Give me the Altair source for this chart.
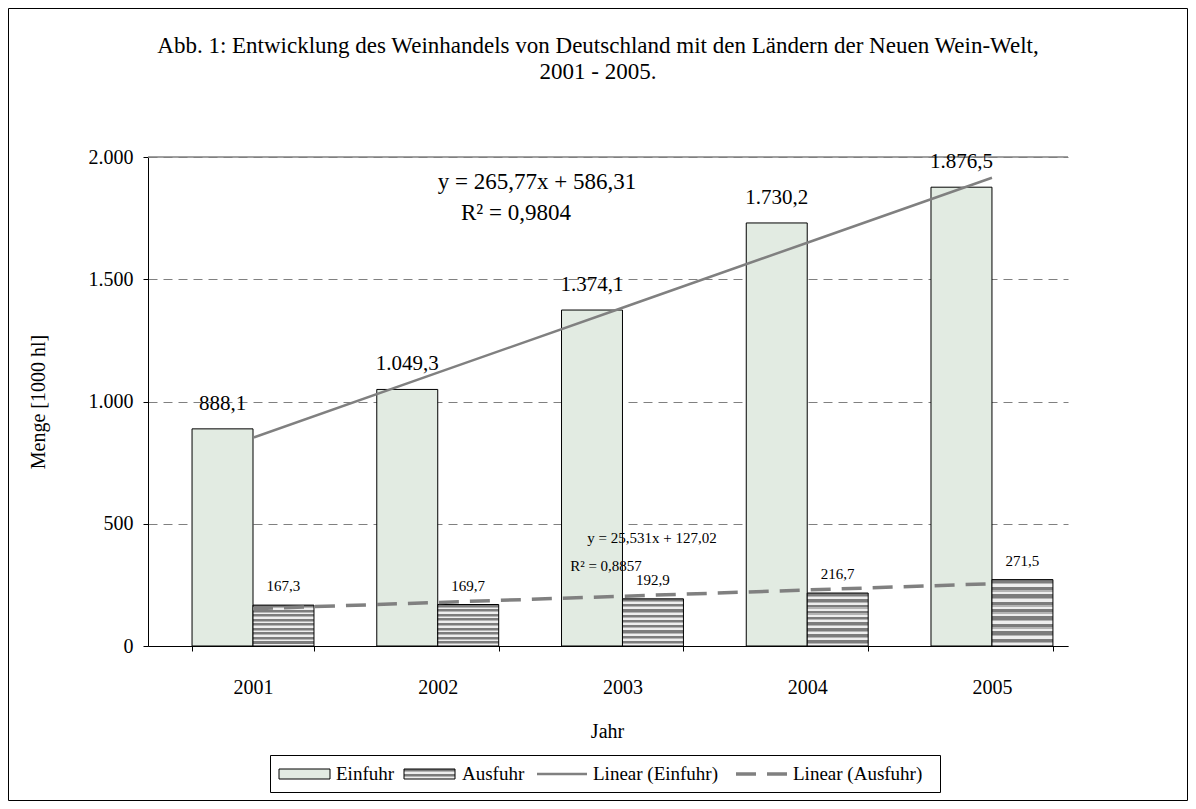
import altair as alt
import pandas as pd

# ---------------- data ----------------
years = ["2001", "2002", "2003", "2004", "2005"]
series = ["Einfuhr", "Ausfuhr"]
einfuhr = [888.1, 1049.3, 1374.1, 1730.2, 1876.5]
ausfuhr = [167.3, 169.7, 192.9, 216.7, 271.5]
trend_einfuhr = [852.1, 1117.9, 1383.6, 1649.4, 1915.2]
trend_ausfuhr = [152.6, 178.1, 203.6, 229.1, 254.7]
y_ticks = [0, 500, 1000, 1500, 2000]

title_lines = [
    "Abb. 1: Entwicklung des Weinhandels von Deutschland mit den Ländern der Neuen Wein-Welt,",
    "2001 - 2005.",
]
eq_einfuhr = ["y = 265,77x + 586,31", "R² = 0,9804"]
eq_ausfuhr = ["y = 25,531x + 127,02", "R² = 0,8857"]
legend_labels = ["Einfuhr", "Ausfuhr", "Linear (Einfuhr)", "Linear (Ausfuhr)"]

bars = pd.DataFrame({
    "Jahr": years * 2,
    "Serie": [series[0]] * 5 + [series[1]] * 5,
    "Menge": einfuhr + ausfuhr,
})
trend = pd.DataFrame({
    "Jahr": years * 2,
    "Serie": [series[0]] * 5 + [series[1]] * 5,
    "Menge": trend_einfuhr + trend_ausfuhr,
})

# ---------------- styles ----------------
FONT = "Liberation Serif"
W, H = 920, 489
GREY = "#808080"
DOT_FILL = "#e2ebe2"


def stripes(n, dark="#7c7c7c", mid="#b4b4b4", light="#eeeeee"):
    stops = []
    for k in range(n):
        a = k / n
        b = (k + 0.45) / n
        c = (k + 0.65) / n
        d = (k + 1) / n
        stops += [
            alt.GradientStop(color=dark, offset=a),
            alt.GradientStop(color=dark, offset=b),
            alt.GradientStop(color=mid, offset=b),
            alt.GradientStop(color=mid, offset=c),
            alt.GradientStop(color=light, offset=c),
            alt.GradientStop(color=light, offset=d),
        ]
    return alt.LinearGradient(gradient="linear", stops=stops, x1=0, x2=0, y1=0, y2=1)


x_enc = alt.X(
    "Jahr:N",
    sort=years,
    scale=alt.Scale(domain=years, paddingInner=0.34, paddingOuter=0.16, align=0.745),
    axis=alt.Axis(
        title="Jahr", labelAngle=0, grid=False, tickBand="extent",
        domainColor="black", tickColor="black", tickSize=5,
        labelFontSize=20, labelPadding=26, labelColor="black",
        titleFontSize=20, titleFontWeight="normal", titleColor="black",
        titleX=459, titleY=85, titleBaseline="middle",
    ),
)
xo_enc = alt.XOffset("Serie:N", sort=series,
                     scale=alt.Scale(domain=series, paddingInner=0, paddingOuter=0))
y_enc = alt.Y(
    "Menge:Q",
    scale=alt.Scale(domain=[0, 2000], nice=False),
    axis=alt.Axis(
        values=y_ticks,
        labelExpr="replace(format(datum.value, ','), ',', '.')",
        grid=True, gridDash=[9, 6], gridColor=GREY, gridWidth=1,
        domainColor="black", tickColor="black", tickSize=5,
        labelFontSize=20, labelPadding=10, labelColor="black",
        title="Menge [1000 hl]", titleFontSize=20, titleFontWeight="normal",
        titleColor="black", titleAngle=270, titleX=-110, titleY=H / 2,
        titleBaseline="middle", titleAlign="center",
    ),
)
y_plain = alt.Y("Menge:Q", scale=alt.Scale(domain=[0, 2000], nice=False))

label_expr = ("replace(replace(replace(format(datum.Menge, ',.1f'), ',', '_'),"
              " '.', ','), '_', '.')")


def one(text):
    return alt.Data(values=[{"t": text}])


def txt(text, x, y, size, align="center"):
    return alt.Chart(one(text)).mark_text(
        font=FONT, fontSize=size, align=align, baseline="middle", color="black"
    ).encode(x=alt.value(x), y=alt.value(y), text=alt.Text("t:N"))


# outer frame of the chart area
frame = alt.Chart(one("frame")).mark_rect(
    fill="white", fillOpacity=0, stroke="black", strokeWidth=1
).encode(x=alt.value(-139.5), x2=alt.value(1039.5), y=alt.value(-148.5), y2=alt.value(643.5))

top_line = alt.Chart(one("top")).mark_rule(color=GREY, strokeWidth=1.5).encode(
    y=alt.datum(2000, scale=alt.Scale(domain=[0, 2000], nice=False))
)

bars_ein = alt.Chart(bars).transform_filter(f"datum.Serie == '{series[0]}'").mark_bar(
    fill=DOT_FILL, stroke="black", strokeWidth=1
).encode(x=x_enc, xOffset=xo_enc, y=y_enc)

bars_aus = alt.Chart(bars).transform_filter(f"datum.Serie == '{series[1]}'").mark_bar(
    fill=stripes(9), stroke="black", strokeWidth=1
).encode(x=x_enc, xOffset=xo_enc, y=y_plain)

lab_ein = alt.Chart(bars).transform_filter(f"datum.Serie == '{series[0]}'").transform_calculate(
    lbl=label_expr
).mark_text(font=FONT, fontSize=21, baseline="middle", dy=-25, color="black").encode(
    x=x_enc, xOffset=xo_enc, y=y_plain, text="lbl:N"
)
lab_aus = alt.Chart(bars).transform_filter(f"datum.Serie == '{series[1]}'").transform_calculate(
    lbl=label_expr
).mark_text(font=FONT, fontSize=15, baseline="middle", dy=-19, color="black").encode(
    x=x_enc, xOffset=xo_enc, y=y_plain, text="lbl:N"
)

trend_ein = alt.Chart(trend).transform_filter(f"datum.Serie == '{series[0]}'").mark_line(
    color=GREY, strokeWidth=2.5
).encode(x=x_enc, y=y_plain)
trend_aus = alt.Chart(trend).transform_filter(f"datum.Serie == '{series[1]}'").mark_line(
    color=GREY, strokeWidth=3.5, strokeDash=[20, 11]
).encode(x=x_enc, y=y_plain)

# titles and equations (plot origin is at page x=148, y=157)
title1 = txt(title_lines[0], 450, -111, 23)
title2 = txt(title_lines[1], 450, -85, 23)
eq1a = txt(eq_einfuhr[0], 389, 25, 23)
eq1b = txt(eq_einfuhr[1], 368, 56, 23)
eq2a = txt(eq_ausfuhr[0], 504, 381, 15)
eq2b = txt(eq_ausfuhr[1], 458, 409, 15)

# legend (manual, boxed)
LY = 617
leg_box = alt.Chart(one("legend")).mark_rect(
    fill="white", stroke="black", strokeWidth=1
).encode(x=alt.value(122.5), x2=alt.value(792.5), y=alt.value(598.5), y2=alt.value(635.5))
sw1 = alt.Chart(one("sw1")).mark_rect(fill=DOT_FILL, stroke="black", strokeWidth=1).encode(
    x=alt.value(131), x2=alt.value(182), y=alt.value(LY - 5), y2=alt.value(LY + 5))
sw2 = alt.Chart(one("sw2")).mark_rect(fill=stripes(2), stroke="black", strokeWidth=1).encode(
    x=alt.value(256), x2=alt.value(307), y=alt.value(LY - 5), y2=alt.value(LY + 5))
ln1 = alt.Chart(one("ln1")).mark_rule(color=GREY, strokeWidth=2.5).encode(
    x=alt.value(389), x2=alt.value(439), y=alt.value(LY))
ln2 = alt.Chart(one("ln2")).mark_rule(color=GREY, strokeWidth=3.5, strokeDash=[20, 11]).encode(
    x=alt.value(588), x2=alt.value(640), y=alt.value(LY))
lt1 = txt(legend_labels[0], 188, LY, 19, "left")
lt2 = txt(legend_labels[1], 314, LY, 19, "left")
lt3 = txt(legend_labels[2], 445, LY, 19, "left")
lt4 = txt(legend_labels[3], 645, LY, 19, "left")

chart = alt.layer(
    frame, bars_ein, top_line, bars_aus, trend_ein, trend_aus, lab_ein, lab_aus,
    title1, title2, eq1a, eq1b, eq2a, eq2b,
    leg_box, sw1, sw2, ln1, ln2, lt1, lt2, lt3, lt4,
).properties(
    width=W, height=H,
    padding={"left": 140, "top": 149, "right": 120, "bottom": 155},
    autosize=alt.AutoSizeParams(type="none"),
    background="white",
).configure(font=FONT).configure_view(strokeWidth=0)

chart.save("out.html", embed_options={"renderer": "svg", "actions": False})
